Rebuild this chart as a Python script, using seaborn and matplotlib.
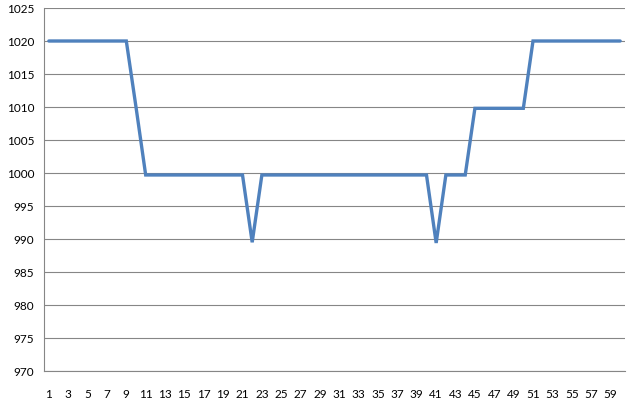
import matplotlib
matplotlib.use("Agg")
import matplotlib.pyplot as plt
import seaborn as sns
import pandas as pd
import numpy as np

categories = list(range(1, 61))
values = ([1020] * 9 + [1010] + [999.7] * 11 + [989.5] + [999.7] * 18 +
          [989.4] + [999.7] * 3 + [1009.8] * 6 + [1020] * 10)
y_ticks = list(range(970, 1026, 5))
x_labels = [str(c) for c in categories if c % 2 == 1]

df = pd.DataFrame({"cat": categories, "value": values})

sns.set_theme(style="white")
plt.rcParams["font.family"] = ["Lato", "DejaVu Sans"]

fig = plt.figure(figsize=(6.4, 4.06), dpi=100)
ax = fig.add_axes([44 / 640, 1 - 372 / 406, (625 - 44) / 640, (372 - 9) / 406])

sns.lineplot(data=df, x="cat", y="value", ax=ax, color="#4F81BD", linewidth=2.4,
             solid_joinstyle="miter")

ax.set_xlim(0.5, 60.5)
ax.set_ylim(970, 1025)
ax.set_yticks(y_ticks)
ax.set_yticklabels([str(t) for t in y_ticks])
ax.set_xticks([c for c in categories if c % 2 == 1])
ax.set_xticklabels(x_labels)
ax.set_xticks(np.arange(0.5, 61, 1), minor=True)
ax.set_xlabel("")
ax.set_ylabel("")

ax.yaxis.grid(True, color="#868686", linewidth=0.8)
ax.xaxis.grid(False)
ax.set_axisbelow(True)

for s in ["top", "right"]:
    ax.spines[s].set_visible(False)
for s in ["left", "bottom"]:
    ax.spines[s].set_color("#868686")
    ax.spines[s].set_linewidth(0.8)

ax.tick_params(axis="x", which="major", length=0, pad=12, labelsize=8.5, colors="#000000")
ax.tick_params(axis="x", which="minor", length=4, width=0.8, color="#868686", direction="out")
ax.tick_params(axis="y", which="major", length=4, width=0.8, color="#868686", direction="out",
               labelsize=8.5, pad=3)
for lbl in ax.get_xticklabels() + ax.get_yticklabels():
    lbl.set_color("#000000")

fig.savefig("out.png", dpi=100, facecolor="white")
